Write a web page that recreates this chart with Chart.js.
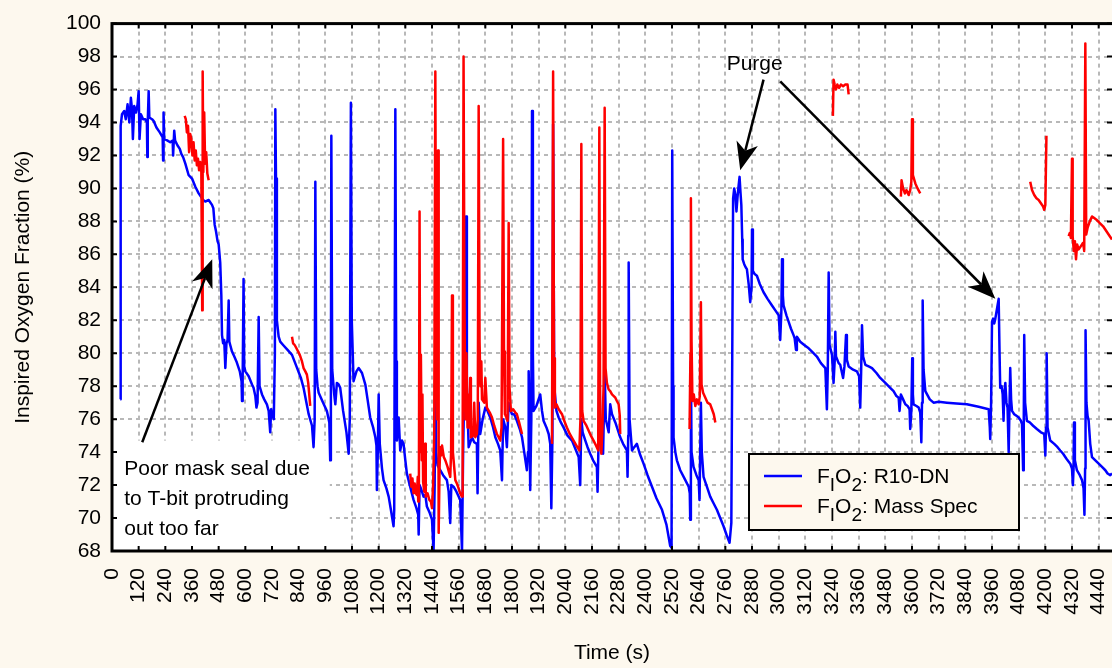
<!DOCTYPE html>
<html>
<head>
<meta charset="utf-8">
<script src="https://cdn.jsdelivr.net/npm/chart.js@4/dist/chart.umd.min.js"></script>
<style>
  html, body { margin: 0; padding: 0; background: #fdf8ee; overflow: hidden; }
  canvas { display: block; }
</style>
</head>
<body>
<canvas id="mychart" width="1112" height="668"></canvas>
<script>
'use strict';

// ---------------- data (time in s, FIO2 in %) ----------------
const r10Time = [37,39,45,55,62,70,78,85,90,94,100,108,115,120,124,130,140,150,157,159,161,165,168,180,187,200,215,228,230,232,235,250,262,273,275,280,284,295,305,312,320,330,345,360,375,390,400,410,420,435,450,456,462,468,475,480,487,492,495,500,505,510,515,520,525,528,532,540,547,560,575,583,585,588,592,595,600,615,630,637,645,650,655,660,664,675,685,697,705,712,716,720,728,733,735,738,742,750,757,770,790,810,830,850,862,875,885,900,907,912,915,919,925,930,950,967,978,982,985,987,991,1000,1005,1012,1020,1027,1040,1055,1065,1070,1075,1079,1087,1100,1110,1125,1140,1150,1162,1175,1185,1190,1192,1196,1200,1205,1215,1222,1235,1245,1255,1267,1270,1275,1279,1282,1290,1297,1305,1312,1320,1327,1340,1357,1370,1378,1380,1384,1390,1402,1410,1417,1430,1440,1447,1452,1455,1458,1465,1477,1490,1507,1515,1522,1527,1537,1550,1567,1575,1580,1588,1593,1597,1605,1620,1630,1642,1645,1650,1657,1668,1680,1690,1702,1715,1725,1737,1747,1755,1760,1770,1777,1785,1792,1800,1810,1822,1835,1845,1855,1867,1872,1875,1878,1882,1887,1890,1894,1897,1910,1927,1935,1942,1955,1965,1972,1977,1982,1985,1990,2000,2010,2020,2032,2050,2070,2085,2100,2107,2112,2118,2130,2140,2152,2165,2182,2185,2190,2193,2197,2205,2210,2217,2222,2235,2242,2250,2265,2275,2287,2300,2317,2320,2323,2325,2329,2340,2350,2362,2375,2392,2410,2430,2450,2475,2495,2512,2518,2521,2525,2527,2535,2542,2557,2580,2595,2600,2602,2605,2608,2617,2630,2640,2644,2650,2654,2662,2677,2692,2707,2722,2737,2752,2765,2779,2787,2795,2800,2805,2810,2815,2820,2824,2828,2832,2836,2838,2845,2852,2857,2865,2872,2878,2880,2884,2892,2902,2915,2932,2950,2970,2985,3000,3007,3012,3015,3019,3022,3035,3045,3055,3067,3072,3078,3082,3097,3115,3135,3150,3172,3190,3210,3217,3221,3225,3229,3240,3247,3252,3255,3258,3270,3277,3290,3296,3303,3307,3315,3335,3352,3362,3367,3371,3375,3380,3390,3405,3420,3440,3457,3480,3502,3517,3530,3540,3544,3550,3560,3570,3580,3589,3592,3597,3601,3604,3607,3620,3630,3637,3642,3645,3648,3652,3660,3680,3697,3720,3757,3800,3847,3900,3945,3950,3952,3956,3960,3965,3970,3975,3980,3985,3990,3994,3997,4003,4008,4012,4015,4020,4025,4030,4035,4039,4042,4046,4050,4060,4070,4080,4090,4095,4100,4103,4105,4109,4117,4130,4145,4162,4180,4195,4200,4203,4206,4210,4222,4240,4255,4267,4280,4295,4312,4320,4324,4327,4329,4333,4342,4355,4365,4372,4376,4379,4381,4385,4390,4395,4402,4410,4425,4440,4455,4470,4480,4492,4500];
const r10Value = [77.2,93.8,94.5,94.7,94.2,95.1,94.0,95.5,94.8,93.0,95.0,94.6,95.1,95.9,93.0,94.5,94.2,94.2,94.0,91.9,94.1,95.9,94.3,94.2,94.1,93.7,93.4,93.1,91.7,94.6,93.0,92.9,92.8,92.9,92.0,93.5,92.9,92.6,92.4,92.1,91.9,91.5,90.8,90.6,90.1,89.7,89.5,89.3,89.2,89.3,89.0,88.8,87.8,87.4,86.8,86.6,85.5,83.5,81.1,80.6,80.8,79.1,80.6,80.8,83.2,80.7,80.5,80.1,79.9,79.5,78.9,78.3,77.1,78.5,84.5,79.2,78.9,78.6,78.1,77.9,77.4,76.7,77.0,82.2,78.0,77.5,77.2,76.9,76.5,75.2,76.6,76.3,76.0,80.0,94.8,90.6,82.0,81.0,80.7,80.5,80.2,79.9,79.2,78.5,77.9,77.0,76.3,75.6,74.3,76.0,90.4,79.0,78.0,77.6,77.0,76.5,75.8,73.5,77.0,93.2,79.0,77.5,76.9,78.2,78.1,77.9,76.5,75.2,73.9,76.0,95.2,82.0,78.3,78.9,79.1,78.8,78.1,77.2,76.1,75.5,74.9,74.4,71.7,74.0,77.5,74.5,73.0,72.3,71.8,71.3,70.5,69.5,70.5,94.8,79.5,74.7,76.1,74.1,74.7,74.5,73.5,72.7,72.0,71.1,70.6,70.2,69.0,72.0,71.8,71.3,71.4,70.7,70.3,69.9,68.0,72.0,80.0,74.0,73.2,72.9,72.6,72.3,71.6,69.7,72.0,71.9,71.6,71.1,68.0,74.0,80.0,88.3,78.0,74.3,74.9,74.6,74.5,71.5,77.0,75.1,76.0,76.7,76.5,76.1,75.5,74.9,74.5,74.1,72.3,76.0,75.5,74.3,77.0,76.6,76.3,76.3,75.9,75.4,74.9,74.0,72.9,74.0,78.9,77.0,71.7,76.0,94.7,80.0,76.5,76.8,77.5,76.5,75.9,75.5,75.1,74.5,70.6,75.0,93.9,78.0,76.5,76.1,75.8,75.5,75.0,74.7,74.2,73.7,72.0,76.0,75.2,74.7,74.3,73.9,73.5,73.1,71.6,75.0,80.0,75.7,74.5,73.9,79.0,76.0,75.2,76.9,76.3,75.8,75.4,74.9,74.5,74.1,72.5,75.0,85.5,76.0,74.1,74.3,74.5,73.9,73.3,72.6,71.9,71.2,70.5,69.6,68.3,68.2,92.3,78.0,74.9,74.0,73.5,72.9,72.3,71.9,71.5,69.9,79.5,74.0,73.1,72.6,72.3,71.1,77.0,74.0,72.5,71.9,71.3,70.9,70.5,70.0,69.5,69.0,68.5,69.7,89.4,90.0,89.6,88.6,89.5,90.2,90.7,89.8,89.0,86.9,85.7,85.4,85.2,85.1,84.2,83.1,84.0,87.5,85.0,84.8,84.7,84.2,83.7,83.3,82.9,82.6,82.3,80.8,82.5,85.7,83.5,82.9,82.3,81.9,81.5,81.1,80.9,80.2,81.0,80.7,80.5,80.3,80.1,79.8,79.4,79.1,76.6,79.0,84.9,80.5,79.9,78.2,79.5,81.3,79.8,79.4,79.3,78.5,79.2,81.1,79.6,79.2,79.0,78.9,78.6,76.7,78.8,81.7,79.8,79.3,79.2,79.1,78.8,78.5,78.2,77.9,77.7,77.4,77.3,76.5,77.5,77.2,76.9,76.8,76.6,75.4,76.5,79.7,77.5,76.9,76.8,76.7,76.4,74.6,77.0,83.2,79.0,77.7,77.2,77.0,77.05,77.0,76.95,76.9,76.75,76.6,75.5,74.8,77.0,81.9,82.1,81.8,82.1,82.5,82.9,83.3,80.0,77.9,78.0,77.5,75.9,77.5,78.2,77.0,76.7,74.0,77.0,79.1,77.2,76.5,76.3,76.2,76.1,75.9,75.7,72.9,76.0,81.1,77.0,75.9,75.8,75.6,75.4,75.2,75.1,73.8,75.5,80.0,75.5,74.7,74.5,74.3,74.1,73.9,73.6,73.3,73.0,72.0,73.0,75.8,73.5,72.9,72.6,72.3,71.8,70.2,73.0,81.4,77.0,76.2,75.9,74.5,73.7,73.5,73.3,73.1,72.9,72.7,72.6,72.7];

// mass spectrometer trace, null = no reading (gap)
const msTime = [327,332,337,342,347,352,357,362,367,372,377,382,387,392,397,402,404,406,408,411,415,419,424,429,435,436,
  810,815,822,830,845,855,862,870,877,883,887,892,893,
  1342,1347,1352,1357,1362,1367,1372,1376,1378,1381,
  1384,1387,1390,1394,1397,1400,1405,1409,1412,1420,
  1428,1435,1440,1445,1450,1455,1459,1463,1467,1470,
  1474,1477,1481,1485,1493,1500,1510,1522,1526,1530,
  1534,1545,1555,1567,1575,1578,1582,1586,1590,1595,
  1600,1603,1608,1612,1615,1625,1630,1635,1642,1646,
  1650,1654,1658,1662,1665,1675,1680,1687,1700,1710,
  1720,1732,1740,1747,1753,1760,1764,1768,1775,1780,
  1785,1789,1795,1805,1815,1822,1832,1845,1846,
  1980,1985,1989,1993,2000,2010,2025,2035,2047,2060,2077,2090,2103,2108,2112,2116,2122,2135,2145,2155,2167,2178,2188,2193,2197,2202,2207,2212,2217,2221,2227,2235,2242,2250,2258,2265,2272,2280,2285,2287,2288,
  2599,2603,2605,2608,2612,2618,2625,2632,2640,2645,2650,2653,2660,2670,2680,2692,2700,2708,2715,2716,
  3244,3247,3252,3258,3264,3272,3280,3290,3300,3310,3315,3316,
  3550,3553,3560,3568,3575,3585,3592,3597,3600,3604,3615,3625,3637,3638,
  4132,4140,4150,4160,4170,4180,4190,4195,4200,4205,4206,
  4305,4310,4315,4320,4323,4328,4333,4338,4343,4350,4360,4370,4375,4380,4384,4390,4400,4410,4420,4430,4445,4460,4475,4490,4500];
const msValue = [94.4,94.2,93.4,93.8,92.2,93.3,93.0,92.0,92.8,91.7,92.3,91.4,91.8,91.1,91.6,91.0,91.0,82.6,97.1,91.0,94.6,91.5,92.2,90.9,90.5,null,
  81.0,80.6,80.5,80.3,79.9,79.5,79.1,78.9,78.7,78.2,77.6,76.8,null,
  72.7,71.9,72.4,71.5,72.1,71.5,71.4,72.5,71.0,72.0,
  88.6,74.0,79.9,73.5,77.5,72.2,71.6,74.5,71.3,71.5,
  71.1,71.0,70.6,72.0,75.0,97.1,80.0,76.0,92.3,69.1,
  73.0,74.3,73.8,74.4,73.7,73.5,73.1,72.5,74.0,83.5,
  74.0,72.3,72.0,71.5,71.3,75.0,98.0,83.3,76.0,80.0,
  75.5,77.5,75.5,78.5,74.9,75.0,77.0,74.9,75.1,76.0,
  95.0,80.7,78.0,79.5,77.2,77.0,78.5,76.7,76.4,76.1,
  75.6,75.1,74.9,74.7,75.5,93.0,80.1,76.3,76.1,75.9,
  87.9,77.9,76.5,76.6,76.4,76.3,75.8,75.1,null,
  74.5,97.1,79.7,76.7,76.9,76.6,76.3,75.9,75.5,75.1,74.7,74.4,74.1,76.0,92.7,76.5,75.9,75.6,75.3,75.0,74.7,74.4,74.1,93.7,75.0,73.9,75.5,78.0,94.9,79.1,78.2,77.8,77.7,77.5,77.4,77.3,77.1,76.9,76.2,75.1,null,
  75.4,80.0,89.4,80.7,77.1,77.5,76.8,77.2,76.9,77.4,83.1,78.1,77.6,77.3,77.0,76.9,76.6,76.3,75.8,null,
  94.4,96.6,96.3,96.0,96.3,96.1,96.3,96.2,96.3,96.3,95.7,null,
  89.5,90.5,90.0,89.7,89.9,89.6,89.9,90.4,94.2,90.8,90.3,90.0,89.7,null,
  90.4,89.9,89.6,89.4,89.3,89.1,88.9,88.7,89.0,93.2,null,
  87.1,87.3,87.0,91.8,87.1,86.2,86.8,85.7,86.6,86.3,86.5,86.7,86.2,98.8,87.2,87.6,88.0,88.3,88.2,88.1,87.9,87.7,87.4,87.1,86.9];

const timeMin = 0, timeMax = 4500, timeStep = 120;
const fracMin = 68, fracMax = 100, fracStep = 2;

const FONT = '"Liberation Sans", Arial, sans-serif';
const BG = '#fdf8ee';

function toPoints(ts, vs) {
  return ts.map((t, i) => ({ x: t, y: vs[i] }));
}

function arrow(ctx, x1, y1, x2, y2) {
  const dx = x2 - x1, dy = y2 - y1;
  const len = Math.hypot(dx, dy), ux = dx / len, uy = dy / len;
  const hl = 28, hw = 11;
  const bx = x2 - ux * hl, by = y2 - uy * hl;
  const nx = x2 - ux * hl * 0.72, ny = y2 - uy * hl * 0.72;
  ctx.beginPath();
  ctx.moveTo(x1, y1);
  ctx.lineTo(nx, ny);
  ctx.stroke();
  ctx.beginPath();
  ctx.moveTo(x2, y2);
  ctx.lineTo(bx - uy * hw, by + ux * hw);
  ctx.lineTo(nx, ny);
  ctx.lineTo(bx + uy * hw, by - ux * hw);
  ctx.closePath();
  ctx.fill();
}

// F_I O_2 : name, with subscripts
function fio2(ctx, x, y, rest) {
  const parts = [['F', 0], ['I', 1], ['O', 0], ['2', 1], [': ' + rest, 0]];
  ctx.textAlign = 'left';
  ctx.textBaseline = 'alphabetic';
  for (const [s, sub] of parts) {
    ctx.font = (sub ? '19px ' : '21px ') + FONT;
    ctx.fillText(s, x, y + (sub ? 8 : 0));
    x += ctx.measureText(s).width;
  }
}

const decor = {
  id: 'decor',
  beforeDraw(chart) {
    const { ctx, chartArea: a } = chart;
    ctx.save();
    ctx.fillStyle = BG;
    ctx.fillRect(0, 0, chart.width, chart.height);
    ctx.fillStyle = '#ffffff';
    ctx.fillRect(a.left, a.top, a.right - a.left, a.bottom - a.top);
    ctx.restore();
  },
  beforeDatasetsDraw(chart) {
    // white box behind the note
    const { ctx, scales: { x, y } } = chart;
    ctx.save();
    ctx.fillStyle = '#ffffff';
    const x0 = x.getPixelForValue(0), x1 = x.getPixelForValue(980);
    const y0 = y.getPixelForValue(74.7), y1 = y.getPixelForValue(68);
    ctx.fillRect(x0, y0, x1 - x0, y1 - y0);
    ctx.restore();
  },
  afterDatasetsDraw(chart) {
    const { ctx, chartArea: a, scales: { x, y } } = chart;
    const P = (t, v) => [x.getPixelForValue(t), y.getPixelForValue(v)];
    ctx.save();
    ctx.strokeStyle = '#000';
    ctx.fillStyle = '#000';
    ctx.lineWidth = 2.5;

    // annotations
    arrow(ctx, ...P(136, 74.6), ...P(451, 85.7));
    arrow(ctx, ...P(2932, 96.6), ...P(2827, 91.1));
    arrow(ctx, ...P(3007, 96.5), ...P(3975, 83.3));

    ctx.font = '21px ' + FONT;
    ctx.textBaseline = 'alphabetic';
    ctx.textAlign = 'center';
    ctx.fillText('Purge', ...P(2892, 97.19));
    ctx.textAlign = 'left';
    const note = ['Poor mask seal due', 'to T-bit protruding', 'out too far'];
    const noteY = [72.59, 70.78, 68.98];
    note.forEach((s, i) => ctx.fillText(s, ...P(55, noteY[i])));

    // legend
    const lx = 749, ly = 454, lw = 270, lh = 76;
    ctx.fillStyle = BG;
    ctx.fillRect(lx, ly, lw, lh);
    ctx.lineWidth = 2;
    ctx.strokeRect(lx, ly, lw, lh);
    const rows = [['#0000ff', 'R10-DN'], ['#ff0000', 'Mass Spec']];
    rows.forEach(([c, name], i) => {
      const yy = ly + 22 + i * 30;
      ctx.strokeStyle = c;
      ctx.lineWidth = 2.5;
      ctx.beginPath();
      ctx.moveTo(lx + 15, yy);
      ctx.lineTo(lx + 53, yy);
      ctx.stroke();
      ctx.fillStyle = '#000';
      fio2(ctx, lx + 68, yy + 7, name);
    });

    // frame + inward ticks
    ctx.strokeStyle = '#000';
    ctx.lineWidth = 3;
    ctx.strokeRect(a.left, a.top, a.right - a.left + 4, a.bottom - a.top);
    ctx.lineWidth = 2;
    ctx.beginPath();
    for (let t = timeMin; t <= timeMax; t += timeStep) {
      const px = x.getPixelForValue(t);
      ctx.moveTo(px, a.top); ctx.lineTo(px, a.top + 5);
      ctx.moveTo(px, a.bottom); ctx.lineTo(px, a.bottom - 5);
    }
    for (let v = fracMin; v <= fracMax; v += fracStep) {
      const py = y.getPixelForValue(v);
      ctx.moveTo(a.left, py); ctx.lineTo(a.left + 5, py);
      ctx.moveTo(a.right, py); ctx.lineTo(a.right - 5, py);
    }
    ctx.stroke();
    ctx.restore();
  }
};

const ctx = document.getElementById('mychart').getContext('2d');
const chart1 = new Chart(ctx, {
  type: 'line',
  data: {
    datasets: [{
      label: 'FIO2: R10-DN',
      data: toPoints(r10Time, r10Value),
      borderColor: '#0000ff',
      borderWidth: 2.5,
      borderJoinStyle: 'round',
      pointRadius: 0,
      tension: 0,
      order: 2
    }, {
      label: 'FIO2: Mass Spec',
      data: toPoints(msTime, msValue),
      borderColor: '#ff0000',
      borderWidth: 2.5,
      borderJoinStyle: 'round',
      pointRadius: 0,
      tension: 0,
      spanGaps: false,
      order: 1
    }]
  },
  options: {
    responsive: false,
    animation: false,
    events: [],
    layout: { padding: { top: 18, left: 0, right: 0, bottom: 0 } },
    plugins: { legend: { display: false }, tooltip: { enabled: false } },
    scales: {
      x: {
        type: 'linear',
        min: timeMin,
        max: timeMax,
        afterFit(s) { s.height = 117; s.paddingLeft = 0; s.paddingRight = 0; },
        ticks: {
          stepSize: timeStep,
          autoSkip: false,
          includeBounds: false,
          maxRotation: 90,
          minRotation: 90,
          padding: 17,
          color: '#000',
          font: { family: FONT, size: 21 },
          callback: v => String(v)
        },
        grid: { color: '#b8b8b8', lineWidth: 2, drawTicks: false },
        border: { display: false, dash: [4, 4] },
        title: { display: true, text: 'Time (s)', color: '#000', font: { family: FONT, size: 21 }, padding: { top: 2, bottom: 2 } }
      },
      y: {
        min: fracMin,
        max: fracMax,
        afterFit(s) { s.width = 112; },
        ticks: {
          stepSize: fracStep,
          padding: 11,
          color: '#000',
          font: { family: FONT, size: 21 },
          callback: v => String(v)
        },
        grid: { color: '#b8b8b8', lineWidth: 2, drawTicks: false },
        border: { display: false, dash: [4, 4] },
        title: { display: true, text: 'Inspired Oxygen Fraction (%)', color: '#000', font: { family: FONT, size: 21 }, padding: { top: 11, bottom: 0 } }
      }
    }
  },
  plugins: [decor]
});
</script>
</body>
</html>
